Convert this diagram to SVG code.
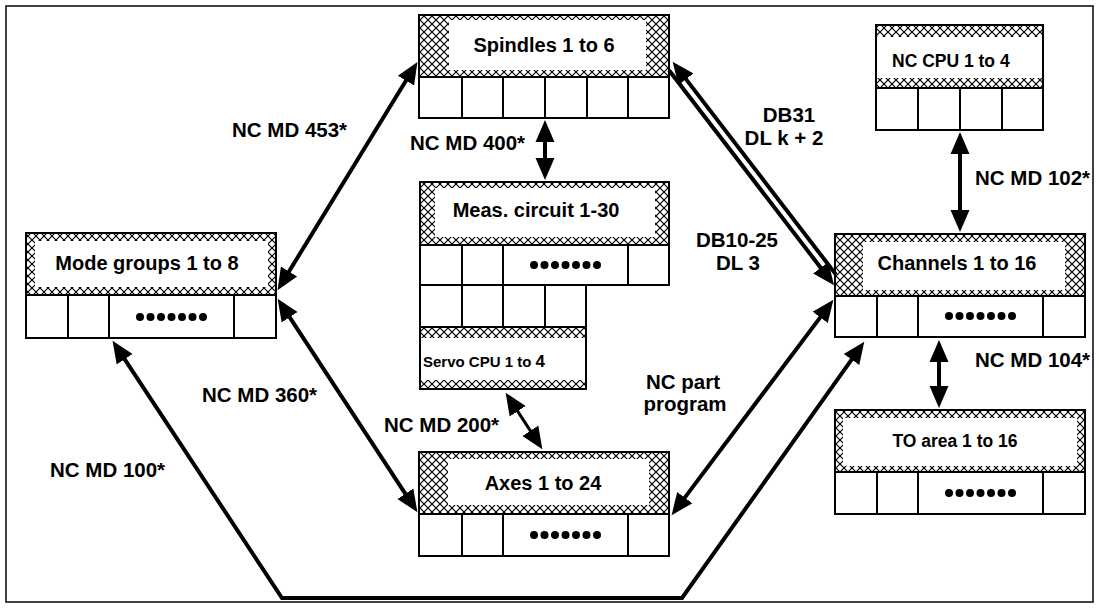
<svg xmlns="http://www.w3.org/2000/svg" width="1099" height="608" viewBox="0 0 1099 608">
<style>
.frame{fill:#fff;stroke:#000;stroke-width:1.5}
.hdr{fill:url(#hatch);stroke:#000;stroke-width:2}
.inner{fill:#fff;stroke:none}
.cells{fill:#fff;stroke:#000;stroke-width:2}
.sep{stroke:#000;stroke-width:2}
.dot{fill:#000}
.t{font-family:"Liberation Sans",Arial,sans-serif;font-weight:bold;font-size:20px;fill:#000}
.lbl{font-family:"Liberation Sans",Arial,sans-serif;font-weight:bold;font-size:20.5px;fill:#000}
.c{text-anchor:middle}
.con{fill:none;stroke:#000;stroke-width:4;marker-start:url(#ah);marker-end:url(#ah)}
.one{fill:none;stroke:#000;stroke-width:4;marker-end:url(#ah)}
</style>
<defs>
<pattern id="hatch" width="8" height="8" patternUnits="userSpaceOnUse">
<rect width="8" height="8" fill="#fff"/>
<path d="M0,0 L8,8 M8,0 L0,8" stroke="#000" stroke-width="1.2"/>
</pattern>
<marker id="ah" viewBox="0 -11 24 22" refX="1" refY="0" markerWidth="24" markerHeight="22" markerUnits="userSpaceOnUse" orient="auto-start-reverse">
<path d="M0,-9.5 L22,0 L0,9.5 z" fill="#000"/>
</marker>
</defs>
<rect class="frame" x="6" y="6" width="1087" height="596"/>

<g id="spindles">
<rect class="hdr" x="419" y="15" width="250" height="62"/>
<rect class="inner" x="449" y="20" width="197" height="50"/>
<text class="t c" x="544" y="52">Spindles 1 to 6</text>
<rect class="cells" x="419" y="77" width="250" height="41"/>
<path class="sep" d="M462,77V118M503,77V118M545,77V118M587,77V118M628,77V118"/>
</g>

<g id="ncCpu">
<rect class="hdr" x="876" y="25" width="167" height="63"/>
<rect class="inner" x="877" y="37" width="165" height="41"/>
<text class="t" style="font-size:17.5px" x="892" y="67">NC CPU 1 to 4</text>
<rect class="cells" x="876" y="88" width="167" height="42"/>
<path class="sep" d="M918,88V130M960,88V130M1002,88V130"/>
</g>

<g id="modeGroups">
<rect class="hdr" x="26" y="233" width="250" height="62"/>
<rect class="inner" x="35" y="241" width="233" height="46"/>
<text class="t c" x="147" y="270">Mode groups 1 to 8</text>
<rect class="cells" x="26" y="295" width="250" height="43"/>
<path class="sep" d="M68,295V338M109,295V338M234,295V338"/>
<g class="dot"><circle cx="140" cy="317" r="4"/><circle cx="150.5" cy="317" r="4"/><circle cx="161" cy="317" r="4"/><circle cx="171.5" cy="317" r="4"/><circle cx="182" cy="317" r="4"/><circle cx="192.5" cy="317" r="4"/><circle cx="203" cy="317" r="4"/></g>
</g>

<g id="measCircuit">
<rect class="hdr" x="420" y="182" width="249" height="63"/>
<rect class="inner" x="435" y="188" width="220" height="49"/>
<text class="t c" x="536" y="217">Meas. circuit 1-30</text>
<rect class="cells" x="420" y="245" width="249" height="40"/>
<path class="sep" d="M462,245V285M503,245V285M628,245V285"/>
<g class="dot"><circle cx="534" cy="265" r="4"/><circle cx="544.5" cy="265" r="4"/><circle cx="555" cy="265" r="4"/><circle cx="565.5" cy="265" r="4"/><circle cx="576" cy="265" r="4"/><circle cx="586.5" cy="265" r="4"/><circle cx="597" cy="265" r="4"/></g>
<rect class="cells" x="420" y="285" width="166" height="42"/>
<path class="sep" d="M462,285V327M503,285V327M545,285V327"/>
</g>

<g id="servoCpu">
<rect class="hdr" x="420" y="327" width="166" height="62"/>
<rect class="inner" x="421" y="338" width="164" height="42"/>
<text class="t" style="font-size:15px" x="423" y="367">Servo CPU 1 to <tspan style="font-size:17px">4</tspan></text>
</g>

<g id="channels">
<rect class="hdr" x="835" y="234" width="250" height="62"/>
<rect class="inner" x="863" y="242" width="202" height="48"/>
<text class="t c" x="957" y="270">Channels 1 to 16</text>
<rect class="cells" x="835" y="296" width="250" height="41"/>
<path class="sep" d="M877,296V337M918,296V337M1043,296V337"/>
<g class="dot"><circle cx="949" cy="316" r="4"/><circle cx="959.5" cy="316" r="4"/><circle cx="970" cy="316" r="4"/><circle cx="980.5" cy="316" r="4"/><circle cx="991" cy="316" r="4"/><circle cx="1001.5" cy="316" r="4"/><circle cx="1012" cy="316" r="4"/></g>
</g>

<g id="toArea">
<rect class="hdr" x="835" y="410" width="250" height="62"/>
<rect class="inner" x="843" y="418" width="234" height="48"/>
<text class="t c" style="font-size:17.5px" x="955" y="447">TO area 1 to 16</text>
<rect class="cells" x="835" y="472" width="250" height="42"/>
<path class="sep" d="M877,472V514M918,472V514M1043,472V514"/>
<g class="dot"><circle cx="949" cy="493" r="4"/><circle cx="959.5" cy="493" r="4"/><circle cx="970" cy="493" r="4"/><circle cx="980.5" cy="493" r="4"/><circle cx="991" cy="493" r="4"/><circle cx="1001.5" cy="493" r="4"/><circle cx="1012" cy="493" r="4"/></g>
</g>

<g id="axes">
<rect class="hdr" x="419" y="452" width="250" height="62"/>
<rect class="inner" x="448" y="459" width="201" height="46"/>
<text class="t c" x="543" y="490">Axes 1 to 24</text>
<rect class="cells" x="419" y="514" width="250" height="42"/>
<path class="sep" d="M462,514V556M503,514V556M628,514V556"/>
<g class="dot"><circle cx="534" cy="535" r="4"/><circle cx="544.5" cy="535" r="4"/><circle cx="555" cy="535" r="4"/><circle cx="565.5" cy="535" r="4"/><circle cx="576" cy="535" r="4"/><circle cx="586.5" cy="535" r="4"/><circle cx="597" cy="535" r="4"/></g>
</g>

<g id="connectors">
<path class="con" d="M406.5,79.8 L288.5,272.3"/>
<path class="con" d="M289.1,316.4 L405.9,494.6"/>
<path class="con" d="M124.1,358.4 L282,598 L682,598 L852.1,358.8"/>
<path class="con" d="M545,141 L545,159"/>
<path class="con" style="stroke-width:3" d="M517.1,410.4 L530.9,431.6"/>
<path class="one" d="M836,274.6 L685.4,78.4"/>
<path class="one" d="M669,70.2 L821.3,268.5"/>
<path class="con" d="M820.8,316.6 L684.2,498.4"/>
<path class="con" d="M960,153 L960,211"/>
<path class="con" d="M939,361 L939,387"/>
</g>

<g id="labels">
<text class="lbl" x="232" y="137">NC MD 453*</text>
<text class="lbl" x="410" y="150">NC MD 400*</text>
<text class="lbl" x="975" y="185">NC MD 102*</text>
<text class="lbl" x="202" y="402">NC MD 360*</text>
<text class="lbl" x="975" y="367">NC MD 104*</text>
<text class="lbl" x="384" y="432">NC MD 200*</text>
<text class="lbl" x="50" y="477">NC MD 100*</text>
<text class="lbl c" x="789" y="122">DB31</text>
<text class="lbl c" x="784" y="145">DL k + 2</text>
<text class="lbl c" x="737" y="247">DB10-25</text>
<text class="lbl c" x="738" y="270">DL 3</text>
<text class="lbl c" x="683" y="389">NC part</text>
<text class="lbl c" x="685" y="411">program</text>
</g>
</svg>
